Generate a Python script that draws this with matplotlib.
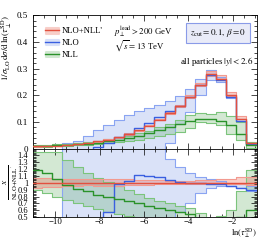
import numpy as np
import matplotlib
matplotlib.use("Agg")
import matplotlib.pyplot as plt
from matplotlib.patches import Patch
from matplotlib.lines import Line2D
from matplotlib.ticker import MultipleLocator, FormatStrFormatter, FuncFormatter

plt.rcParams["font.family"] = ["Liberation Serif", "DejaVu Serif"]
plt.rcParams["mathtext.fontset"] = "stix"

# bins in ln(tau), 5 per decade
edges = np.log(10) * np.arange(-24, -1) / 5

# NLO+NLL'
nlo_nll = [0.008, 0.009, 0.011, 0.014, 0.017, 0.021, 0.027, 0.034, 0.043, 0.054, 0.068,
           0.086, 0.108, 0.134, 0.160, 0.195, 0.238, 0.279, 0.262, 0.201, 0.112, 0.020]
nlo_nll_hi = [0.0086, 0.0096, 0.0117, 0.0147, 0.0179, 0.0221, 0.0284, 0.0357, 0.0452, 0.0567, 0.0707,
              0.0894, 0.1123, 0.1380, 0.1648, 0.2009, 0.2475, 0.2902, 0.2751, 0.2131, 0.1210, 0.0218]
nlo_nll_lo = [0.0074, 0.0084, 0.0103, 0.0133, 0.0163, 0.0202, 0.0259, 0.0326, 0.0413, 0.0524, 0.0660,
              0.0834, 0.1058, 0.1313, 0.1568, 0.1911, 0.2332, 0.2734, 0.2568, 0.1970, 0.1098, 0.0194]

# NLO
nlo = [-0.008, -0.011, -0.011, -0.011, -0.0085, -0.0042, 0.0041, 0.0194, 0.0421, 0.0551, 0.0762,
       0.0946, 0.1166, 0.1394, 0.1616, 0.195, 0.238, 0.2762, 0.2568, 0.193, 0.1042, 0.018]
nlo_hi = [-0.008, -0.011, -0.011, 0.022, 0.028, 0.049, 0.068, 0.088, 0.108, 0.125, 0.140,
          0.152, 0.165, 0.180, 0.196, 0.222, 0.260, 0.294, 0.268, 0.201, 0.110, 0.019]
nlo_lo = [-0.008, -0.011, -0.011, -0.02, -0.03, -0.04, -0.05, -0.05, -0.04, -0.03, -0.02,
          -0.01, 0.0, 0.02, 0.093, 0.137, 0.202, 0.257, 0.249, 0.191, 0.103, 0.0176]

# NLL
nll = [0.0095, 0.0103, 0.0117, 0.0136, 0.0156, 0.0184, 0.0224, 0.0269, 0.0327, 0.0394, 0.0476,
       0.0576, 0.0691, 0.0817, 0.0928, 0.1053, 0.1119, 0.1116, 0.1048, 0.0884, 0.0560, 0.0120]
nll_hi = [0.0116, 0.0131, 0.0160, 0.0186, 0.0209, 0.0239, 0.0289, 0.0343, 0.0409, 0.0486, 0.0571,
          0.0671, 0.0799, 0.0938, 0.1072, 0.1248, 0.1333, 0.1311, 0.1362, 0.1206, 0.0980, 0.0238]
nll_lo = [0.0072, 0.0077, 0.0088, 0.0105, 0.0119, 0.0139, 0.0167, 0.0197, 0.0237, 0.0281, 0.0326,
          0.0396, 0.0475, 0.0563, 0.0640, 0.0780, 0.1000, 0.0977, 0.0891, 0.0563, 0.0314, 0.0020]

# draw order: NLO band at the back, NLO+NLL' on top
series = {
    "NLO": (nlo, nlo_lo, nlo_hi, "#3a5fe0", "#8aa4f2", "#4a6ee0", 0.2),
    "NLL": (nll, nll_lo, nll_hi, "#2a922a", "#7cc47c", "#3a9a3a", 0.22),
    "NLO+NLL'": (nlo_nll, nlo_nll_lo, nlo_nll_hi, "#e2503f", "#f29a90", "#e8604f", 0.30),
}
legend_order = ["NLO+NLL'", "NLO", "NLL"]


def ext(v):
    v = np.asarray(v, dtype=float)
    return np.append(v, v[-1])


def draw(ax, norm):
    for name, (c, lo, hi, lc, ec, fc, al) in series.items():
        lo = np.asarray(lo) / norm
        hi = np.asarray(hi) / norm
        ax.fill_between(edges, ext(lo), ext(hi), step="post", facecolor=fc,
                        alpha=al, edgecolor="none", zorder=1)
        ax.step(edges, ext(hi), where="post", color=ec, lw=0.8, zorder=2)
        ax.step(edges, ext(lo), where="post", color=ec, lw=0.8, zorder=2)
    for name, (c, lo, hi, lc, ec, fc, al) in series.items():
        ax.step(edges, ext(np.asarray(c) / norm), where="post", color=lc, lw=1.0, zorder=3)


fig = plt.figure(figsize=(2.66, 2.40), dpi=100)
ax = fig.add_axes([0.124, 0.381, 0.841, 0.555])
axr = fig.add_axes([0.124, 0.095, 0.841, 0.286], sharex=ax)

draw(ax, 1.0)
draw(axr, np.asarray(nlo_nll))

for a in (ax, axr):
    a.set_xlim(-11, np.log(0.4))
    a.xaxis.set_major_locator(MultipleLocator(2))
    a.xaxis.set_minor_locator(MultipleLocator(0.5))
    a.tick_params(which="both", direction="in", top=True, right=True, labelsize=6.5, width=0.5)
    a.tick_params(which="major", length=4)
    a.tick_params(which="minor", length=2)
    for s in a.spines.values():
        s.set_linewidth(0.6)

ax.set_ylim(0, 0.5)
ax.yaxis.set_major_locator(MultipleLocator(0.1))
ax.yaxis.set_minor_locator(MultipleLocator(0.02))
ax.yaxis.set_major_formatter(FormatStrFormatter("%g"))
ax.tick_params(labelbottom=False)

axr.set_ylim(0.5, 1.5)
axr.set_yticks(np.arange(0.5, 1.45, 0.1))
axr.yaxis.set_minor_locator(MultipleLocator(0.02))
axr.yaxis.set_major_formatter(FuncFormatter(lambda v, p: f"{v:.1f}".rstrip("0").rstrip(".")))
axr.tick_params(axis="y", labelsize=6)
axr.tick_params(axis="x", pad=0.8, labelsize=6.3)

ax.set_ylabel(r"$1/\sigma_{\rm LO}\,{\rm d}\sigma/{\rm d}\,\ln(\tau_\perp^{\rm SD})$", fontsize=6.5, loc="top", labelpad=2)
fig.text(10 / 266, 1 - 182 / 240, r"$\frac{X}{\rm NLO{+}NLL'}$", fontsize=7, rotation=90,
         ha="center", va="center")
fig.text(0.966, 0.002, r"$\ln(\tau_\perp^{\rm SD})$", fontsize=6.1, ha="right", va="bottom")

handles = []
for name in legend_order:
    c, lo, hi, lc, ec, fc, al = series[name]
    handles.append((Patch(facecolor=fc, alpha=al, edgecolor=ec, lw=0.8), Line2D([], [], color=lc, lw=1.0)))
ax.legend(handles, legend_order, loc="upper left", bbox_to_anchor=(0.045, 0.925), frameon=False,
          fontsize=6.2, handlelength=1.6, handleheight=0.8, labelspacing=0.4, handletextpad=0.4,
          borderpad=0.2, borderaxespad=0)

ax.text(0.36, 0.875, r"$p_\perp^{\rm lead} > 200$ GeV", transform=ax.transAxes, fontsize=6.3, va="center")
ax.text(0.36, 0.77, r"$\sqrt{s} = 13$ TeV", transform=ax.transAxes, fontsize=6.3, va="center")
ax.text(0.827, 0.867, r"$z_{\rm cut} = 0.1,\,\beta = 0$", transform=ax.transAxes, fontsize=6.5,
        va="center", ha="center",
        bbox=dict(boxstyle="square,pad=0.45", facecolor="#e9ebf8", edgecolor="#8a9be8", lw=0.8))
ax.text(0.983, 0.65, r"all particles $|y| < 2.6$", transform=ax.transAxes, fontsize=6.5,
        va="center", ha="right")

fig.savefig("out.png", dpi=100)
